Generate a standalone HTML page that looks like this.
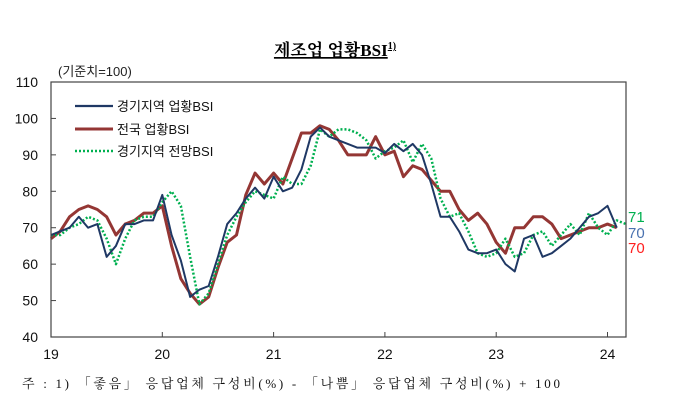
<!DOCTYPE html>
<html><head><meta charset="utf-8"><style>
body{margin:0;background:#fff;width:680px;height:405px;overflow:hidden;font-family:"Liberation Sans","Noto Sans CJK KR",sans-serif}
</style></head><body>
<svg width="680" height="405" xmlns="http://www.w3.org/2000/svg">
<text x="335" y="56" text-anchor="middle" font-family="'Liberation Serif','Noto Serif CJK SC',serif" font-weight="bold" font-size="17" text-decoration="underline">제조업 업황BSI<tspan font-size="10" dy="-7">1)</tspan></text>
<text x="58" y="76" font-size="13" fill="#222">(기준치=100)</text>
<g id="axes"></g>
<g id="series"></g>
<rect x="51" y="82" width="575" height="255" fill="none" stroke="#444" stroke-width="1.2"/>
<g>
<line x1="75" y1="106" x2="113" y2="106" stroke="#1f3864" stroke-width="2.2"/>
<text x="117" y="111" font-size="13" fill="#111">경기지역 업황BSI</text>
<line x1="75" y1="129" x2="113" y2="129" stroke="#943634" stroke-width="3"/>
<text x="117" y="134" font-size="13" fill="#111">전국 업황BSI</text>
<line x1="75" y1="151" x2="113" y2="151" stroke="#00b050" stroke-width="2.5" stroke-dasharray="2,2"/>
<text x="117" y="156" font-size="13" fill="#111">경기지역 전망BSI</text>
</g>
<text x="628" y="222" font-size="15" fill="#00b050">71</text>
<text x="628" y="238" font-size="15" fill="#4a72b0">70</text>
<text x="628" y="253" font-size="15" fill="#ff2020">70</text>
<text x="22" y="388" font-size="13" fill="#111" font-family="'Liberation Serif','Noto Serif CJK SC',serif" textLength="538" lengthAdjust="spacing">주 : 1) 「좋음」 응답업체 구성비(%) - 「나쁨」 응답업체 구성비(%) + 100</text>
</svg>
<script>
const yTicks=[40,50,60,70,80,90,100,110];
const xYears=["19","20","21","22","23","24"];
const gyeonggi=[68,69,70,73,70,71,62,65,71,71,72,72,79,68,61,51,53,54,62,71,74,78,81,78,84,80,81,86,95,97.5,95,94,93,92,92,92,90.5,93,91,93,90,82,73,73,69,64,63,63,64,60,58,67,68,62,63,65,67,70,73,74,76,70];
const national=[67,69,73,75,76,75,73,68,71,72,74,74,76,65,56,52,49,51,59,66,68,79,85,82,85,82,89,96,96,98,97,94,90,90,90,95,90,91,84,87,86,83,80,80,75,72,74,71,66,63,70,70,73,73,71,67,68,69,70,70,71,70];
const outlook=[68,68,70,71,73,72,67,60,67,72,73,73,77,80,76,62,49,52,60,68,73,77,80,79,78,84,82,82,87,97,95,97,97,96,94,89,91,92,94,88,93,89,78,73,74,69,63,62,63,67,62,63,68,69,65,68,71,68,74,70,68,72,71];
const X0=51,Y0=82,W=575,H=255,MW=111.3/12;
const x=i=>X0+i*MW;
const y=v=>Y0+(110-v)*H/70;
const NS="http://www.w3.org/2000/svg";
const axes=document.getElementById('axes'),ser=document.getElementById('series');
function mk(t,a,p){const e=document.createElementNS(NS,t);for(const k in a)e.setAttribute(k,a[k]);p.appendChild(e);return e;}
yTicks.forEach(v=>{
 const t=mk('text',{x:38,y:y(v)+5,'text-anchor':'end','font-size':14,fill:'#111'},axes);
 t.textContent=v;
 
 
 const l=mk('line',{x1:X0,x2:X0+5,y1:y(v),y2:y(v),stroke:'#444'},axes);
 
 
});
xYears.forEach((s,k)=>{
 const xx=x(k*12);
 const t=mk('text',{x:xx,y:359,'text-anchor':'middle','font-size':14,fill:'#111'},axes);
 t.textContent=s;
 
 
 const l=mk('line',{x1:xx,x2:xx,y1:Y0+H,y2:Y0+H-5,stroke:'#444'},axes);
 
 
});
function line(arr,attrs,name){
 const p=mk('polyline',Object.assign({fill:'none','stroke-linejoin':'round',points:arr.map((v,i)=>x(i)+','+y(v)).join(' ')},attrs),ser);
 
 
}
line(national,{stroke:'#943634','stroke-width':3},'series-national');
line(outlook,{stroke:'#00b050','stroke-width':2.5,'stroke-dasharray':'2,2'},'series-outlook');
line(gyeonggi,{stroke:'#1f3864','stroke-width':2},'series-gyeonggi');
</script>
</body></html>
